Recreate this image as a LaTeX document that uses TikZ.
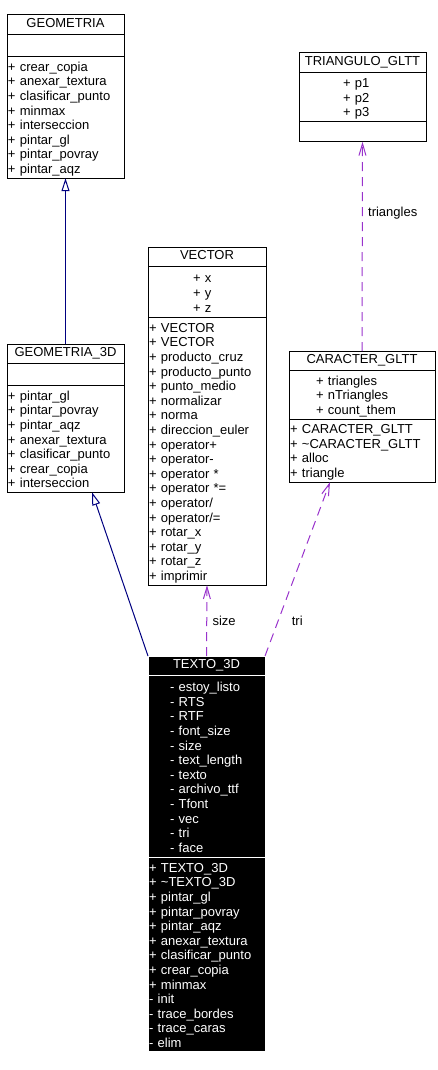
\documentclass[tikz,border=0pt]{standalone}
\usepackage{fontspec}
\setmainfont{Liberation Sans}
\usetikzlibrary{arrows.meta,shapes,positioning}
\definecolor{GenColor}{RGB}{0,0,128}
\definecolor{DepColor}{RGB}{153,51,204}

\begin{document}
\begin{tikzpicture}[x=1pt, y=-1pt, node distance = 0pt]
	\tikzset{BoxStyle/.style = {
			shape=rectangle,
			draw=black,
			line width=1pt,
			outer sep=0pt,
			font=\fontsize{13}{14.6}\selectfont
	}}
	\tikzset{TitleStyle/.style = {BoxStyle, minimum width=#1, inner ysep=2.6pt,
			execute at begin node=\strut, execute at end node=\strut}}
	\tikzset{ListStyle/.style = {BoxStyle, inner ysep=2pt, align=left,
			execute at begin node=\rule{0pt}{12.5pt},
			execute at end node=\rule[-2.3pt]{0pt}{0pt}}}
	\tikzset{AttrStyle/.style 2 args = {ListStyle, inner xsep=#1, text width=#2}}
	\tikzset{OperStyle/.style = {ListStyle, inner xsep=1pt, text width=#1}}
	\tikzset{DarkStyle/.style = {fill=black, draw=white, text=white}}
	\tikzset{GenStyle/.style = {draw=GenColor, line width=1pt,
			-{Triangle[open, length=13pt, width=8pt]}}}
	\tikzset{DepStyle/.style = {draw=DepColor, line width=1pt, dash pattern=on 9pt off 6pt,
			-{Straight Barb[length=12pt, width=7pt]}}}
	\tikzset{LabelStyle/.style = {font=\fontsize{13}{14.6}\selectfont, text=black}}
	\useasboundingbox (0,0) rectangle (438,1070);

	% GEOMETRIA
	\node[TitleStyle=117pt, anchor=north west] (geo) at (7,15) {GEOMETRIA};
	\node[TitleStyle=117pt, minimum height=22pt, below=of geo] (geoA) {};
	\node[OperStyle=115pt, below=of geoA] (geoM) {+ crear\_copia\\ + anexar\_textura\\ + clasificar\_punto\\ + minmax\\ + interseccion\\ + pintar\_gl\\ + pintar\_povray\\ + pintar\_aqz};

	% GEOMETRIA_3D
	\node[TitleStyle=117pt, anchor=north west] (geo3) at (7,344) {GEOMETRIA\_3D};
	\node[TitleStyle=117pt, minimum height=22pt, below=of geo3] (geo3A) {};
	\node[OperStyle=115pt, below=of geo3A] (geo3M) {+ pintar\_gl\\ + pintar\_povray\\ + pintar\_aqz\\ + anexar\_textura\\ + clasificar\_punto\\ + crear\_copia\\ + interseccion};

	% VECTOR
	\node[TitleStyle=118pt, anchor=north west] (vec) at (148,247) {VECTOR};
	\node[AttrStyle={45pt}{28pt}, minimum height=51pt, below=of vec] (vecA) {+ x\\ + y\\ + z};
	\node[OperStyle=116pt, below=of vecA] (vecM) {+ VECTOR\\ + VECTOR\\ + producto\_cruz\\ + producto\_punto\\ + punto\_medio\\ + normalizar\\ + norma\\ + direccion\_euler\\ + operator+\\ + operator-\\ + operator *\\ + operator *=\\ + operator/\\ + operator/=\\ + rotar\_x\\ + rotar\_y\\ + rotar\_z\\ + imprimir};

	% TRIANGULO_GLTT
	\node[TitleStyle=127pt, anchor=north west] (tri) at (299,53) {TRIANGULO\_GLTT};
	\node[AttrStyle={44pt}{39pt}, minimum height=49pt, below=of tri] (triA) {+ p1\\ + p2\\ + p3};
	\node[TitleStyle=127pt, minimum height=20pt, below=of triA] (triM) {};

	% CARACTER_GLTT
	\node[TitleStyle=146pt, anchor=north west] (car) at (289,351) {CARACTER\_GLTT};
	\node[AttrStyle={27pt}{92pt}, minimum height=48pt, below=of car] (carA) {+ triangles\\ + nTriangles\\ + count\_them};
	\node[OperStyle=144pt, below=of carA] (carM) {+ CARACTER\_GLTT\\ + \textasciitilde CARACTER\_GLTT\\ + alloc\\ + triangle};

	% TEXTO_3D
	\node[TitleStyle=117pt, DarkStyle, anchor=north west] (txt) at (148,656) {TEXTO\_3D};
	\node[AttrStyle={22pt}{73pt}, DarkStyle, minimum height=182pt, below=of txt] (txtA) {- estoy\_listo\\ - RTS\\ - RTF\\ - font\_size\\ - size\\ -~text\_length\\ - texto\\ - archivo\_ttf\\ - Tfont\\ - vec\\ - tri\\ - face};
	\node[OperStyle=115pt, DarkStyle, below=of txtA] (txtM) {+ TEXTO\_3D\\ + \textasciitilde TEXTO\_3D\\ + pintar\_gl\\ + pintar\_povray\\ + pintar\_aqz\\ + anexar\_textura\\ + clasificar\_punto\\ + crear\_copia\\ + minmax\\ - init\\ - trace\_bordes\\ - trace\_caras\\ - elim};

	\path (geo3.north) edge[GenStyle] (geoM.south);
	\path (txt.north west) edge[GenStyle] ([xshift=26.5pt]geo3M.south);
	\path (txt.north) edge[DepStyle] node[LabelStyle, pos=0.49, right=2pt] {size} (vecM.south);
	\path (txt.north east) edge[DepStyle] node[LabelStyle, pos=0.2, right=10pt] {tri} ([xshift=-32pt]carM.south);
	\path (car.north) edge[DepStyle] node[LabelStyle, pos=0.66, right=2pt] {triangles} (triM.south);
\end{tikzpicture}
\end{document}
